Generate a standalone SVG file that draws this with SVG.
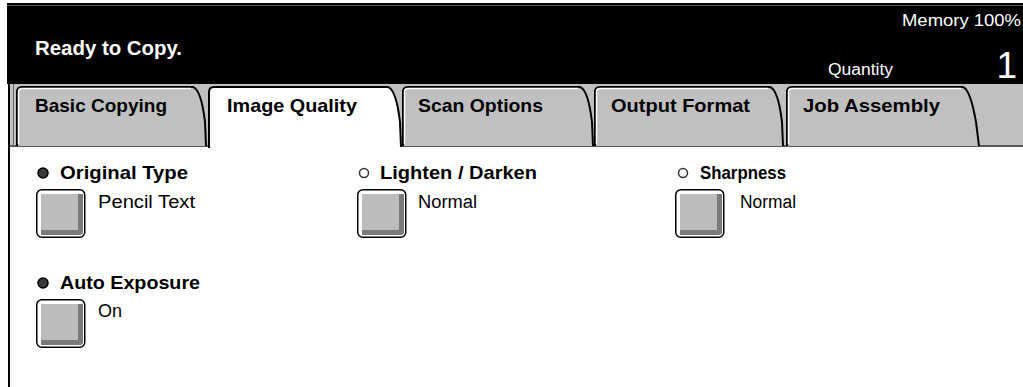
<svg xmlns="http://www.w3.org/2000/svg" width="1023" height="387" viewBox="0 0 1023 387">
<style>
.hdr{font-family:"Liberation Sans",Arial,sans-serif;fill:#fff}
.lbl{font-family:"Liberation Sans",Arial,sans-serif;font-weight:bold;font-size:19px;fill:#000}
.val{font-family:"Liberation Sans",Arial,sans-serif;font-size:18px;fill:#000}
.tab{stroke:#000;stroke-width:2;fill:#c0c0c0}
.hl{stroke:#fff;stroke-width:1.5;fill:none}
.btnO{fill:#fff;stroke:#000;stroke-width:1.5}
.btnS{fill:#7a7a7a}
.btnI{fill:#bcbcbc}
.rOn{fill:#3a3a3a;stroke:#000;stroke-width:1.5}
.rOff{fill:#fff;stroke:#333;stroke-width:1.5}
</style>
<defs>
<g id="btn">
<rect class="btnO" x="0.75" y="0.75" width="48" height="47.5" rx="5"/>
<path class="btnS" d="M5,40 L5,46 L44,46 Q47,46 47,43 L47,5 L41,5 L41,40 Z"/>
<rect class="btnI" x="5" y="5" width="37" height="36"/>
</g>
</defs>
<rect x="0" y="0" width="1023" height="387" fill="#fff"/>
<g id="header">
<rect x="7" y="3" width="1016" height="81" fill="#000"/>
<line x1="7" y1="5.5" x2="1023" y2="5.5" stroke="#555" stroke-width="1"/>
<text class="hdr" x="35" y="55" font-size="20" font-weight="bold" textLength="147" lengthAdjust="spacingAndGlyphs">Ready to Copy.</text>
<text class="hdr" x="902" y="26" font-size="17" textLength="119" lengthAdjust="spacingAndGlyphs">Memory 100%</text>
<text class="hdr" x="828" y="75" font-size="16" textLength="65" lengthAdjust="spacingAndGlyphs">Quantity</text>
<text class="hdr" x="1017" y="78" font-size="37" text-anchor="end">1</text>
</g>
<g id="tabbar">
<rect x="10" y="84" width="1013" height="63" fill="#c0c0c0"/>
<line x1="10" y1="146" x2="1023" y2="146" stroke="#555" stroke-width="2"/>
<line x1="13.5" y1="84" x2="13.5" y2="146" stroke="#666" stroke-width="1"/>
</g>
<g id="tab-basic">
<path class="tab" d="M17,146 L17,92 Q17,87 22,87 L193,87 C199,89 203,105 205,122 L206,146"/>
<path class="hl" d="M18.5,144 L18.5,92 Q18.5,88.5 22,88.5 L191,88.5"/>
<text class="lbl" x="35" y="112" textLength="132" lengthAdjust="spacingAndGlyphs">Basic Copying</text>
</g>
<g id="tab-scan">
<path class="tab" d="M403,146 L403,92 Q403,87 408,87 L580,87 C586,89 590,105 592,122 L593,146"/>
<path class="hl" d="M404.5,144 L404.5,92 Q404.5,88.5 408,88.5 L578,88.5"/>
<text class="lbl" x="418" y="112" textLength="125" lengthAdjust="spacingAndGlyphs">Scan Options</text>
</g>
<g id="tab-output">
<path class="tab" d="M595,146 L595,92 Q595,87 600,87 L770,87 C776,89 780,105 782,122 L783,146"/>
<path class="hl" d="M596.5,144 L596.5,92 Q596.5,88.5 600,88.5 L768,88.5"/>
<text class="lbl" x="611" y="112" textLength="139" lengthAdjust="spacingAndGlyphs">Output Format</text>
</g>
<g id="tab-job">
<path class="tab" d="M787,146 L787,92 Q787,87 792,87 L963,87 C969,89 973,105 976,122 L979,146"/>
<path class="hl" d="M788.5,144 L788.5,92 Q788.5,88.5 792,88.5 L961,88.5"/>
<text class="lbl" x="803" y="112" textLength="137" lengthAdjust="spacingAndGlyphs">Job Assembly</text>
</g>
<rect x="10" y="147" width="1013" height="240" fill="#fff"/>
<g id="tab-image">
<path d="M209,148 L209,92 Q209,87 214,87 L388,87 C394,89 398,105 400,122 L401,148 Z" fill="#fff"/>
<path d="M209,148 L209,92 Q209,87 214,87 L388,87 C394,89 398,105 400,122 L401,147" fill="none" stroke="#000" stroke-width="2"/>
<text class="lbl" x="227" y="112" textLength="130" lengthAdjust="spacingAndGlyphs">Image Quality</text>
</g>
<line x1="9" y1="84" x2="9" y2="387" stroke="#000" stroke-width="2"/>
<g id="opt-original">
<circle class="rOn" cx="43" cy="173" r="5"/>
<text class="lbl" x="60" y="179" textLength="128" lengthAdjust="spacingAndGlyphs">Original Type</text>
<use href="#btn" x="36" y="189"/>
<text class="val" x="98" y="208" textLength="97" lengthAdjust="spacingAndGlyphs">Pencil Text</text>
</g>
<g id="opt-lighten">
<circle class="rOff" cx="364" cy="173" r="4.5"/>
<text class="lbl" x="380" y="179" textLength="157" lengthAdjust="spacingAndGlyphs">Lighten / Darken</text>
<use href="#btn" x="357" y="189"/>
<text class="val" x="418" y="208" textLength="59" lengthAdjust="spacingAndGlyphs">Normal</text>
</g>
<g id="opt-sharpness">
<circle class="rOff" cx="683" cy="173" r="4.5"/>
<text class="lbl" x="700" y="179" textLength="86" lengthAdjust="spacingAndGlyphs">Sharpness</text>
<use href="#btn" x="675" y="189"/>
<text class="val" x="740" y="208" textLength="56" lengthAdjust="spacingAndGlyphs">Normal</text>
</g>
<g id="opt-auto">
<circle class="rOn" cx="43" cy="283" r="5"/>
<text class="lbl" x="60" y="289" textLength="140" lengthAdjust="spacingAndGlyphs">Auto Exposure</text>
<use href="#btn" x="36" y="299"/>
<text class="val" x="98" y="317" textLength="24" lengthAdjust="spacingAndGlyphs">On</text>
</g>
</svg>
